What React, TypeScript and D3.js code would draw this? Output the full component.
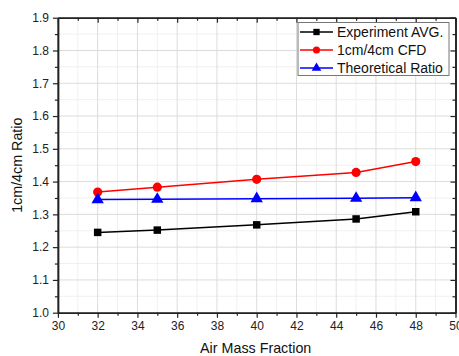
import React, { useEffect, useRef } from 'react';
import * as d3 from 'd3';

const airMass = [32, 35, 40, 45, 48];
const experimentAvg = [1.245, 1.252, 1.268, 1.286, 1.308];
const cfdRatio = [1.368, 1.383, 1.407, 1.428, 1.461];
const theoreticalRatio = [1.345, 1.346, 1.348, 1.349, 1.351];

const xTicks = [30, 32, 34, 36, 38, 40, 42, 44, 46, 48, 50];
const yTicks = [1.0, 1.1, 1.2, 1.3, 1.4, 1.5, 1.6, 1.7, 1.8, 1.9];

const seriesNames = ['Experiment AVG.', '1cm/4cm CFD', 'Theoretical Ratio'];
const seriesColors = ['#000000', '#ff0000', '#0000ff'];
const seriesShapes = [d3.symbolSquare, d3.symbolCircle, d3.symbolTriangle];

const App: React.FC = () => {
  const ref = useRef<SVGSVGElement | null>(null);

  useEffect(() => {
    const W = 459;
    const H = 356;
    const margin = { top: 17.7, right: 3.5, bottom: 43.3, left: 57.9 };
    const width = W - margin.left - margin.right;
    const height = H - margin.top - margin.bottom;
    const font = '"Liberation Sans", Arial, sans-serif';

    const svg = d3.select(ref.current);
    svg.selectAll('*').remove();

    const g = svg.append('g').attr('transform', `translate(${margin.left},${margin.top})`);

    const x = d3.scaleLinear().domain([30, 50]).range([0, width]);
    const y = d3.scaleLinear().domain([1.0, 1.9]).range([height, 0]);

    const xMinor = d3.range(31, 50, 2);
    const yMinor = d3.range(1.05, 1.9, 0.1);

    // grid
    g.append('g').selectAll('line.mx').data(xMinor).enter().append('line')
      .attr('x1', d => x(d)).attr('x2', d => x(d)).attr('y1', 0).attr('y2', height)
      .attr('stroke', '#f0f0f0').attr('stroke-width', 1);
    g.append('g').selectAll('line.my').data(yMinor).enter().append('line')
      .attr('y1', d => y(d)).attr('y2', d => y(d)).attr('x1', 0).attr('x2', width)
      .attr('stroke', '#f0f0f0').attr('stroke-width', 1);
    g.append('g').selectAll('line.gx').data(xTicks).enter().append('line')
      .attr('x1', d => x(d)).attr('x2', d => x(d)).attr('y1', 0).attr('y2', height)
      .attr('stroke', '#dcdcdc').attr('stroke-width', 1);
    g.append('g').selectAll('line.gy').data(yTicks).enter().append('line')
      .attr('y1', d => y(d)).attr('y2', d => y(d)).attr('x1', 0).attr('x2', width)
      .attr('stroke', '#dcdcdc').attr('stroke-width', 1);

    // axes
    const styleAxis = (sel: d3.Selection<SVGGElement, unknown, null, undefined>) => {
      sel.select('.domain').attr('stroke', '#222').attr('stroke-width', 1.6);
      sel.selectAll('.tick line').attr('stroke', '#222').attr('stroke-width', 1.2);
      sel.selectAll('.tick text').attr('fill', '#222').style('font-family', font).style('font-size', '12px');
    };

    const bottom = g.append('g').attr('transform', `translate(0,${height})`)
      .call(d3.axisBottom(x).tickValues(xTicks).tickSize(5).tickSizeOuter(0).tickPadding(4).tickFormat(d3.format('d')));
    styleAxis(bottom);
    const bottomMinor = g.append('g').attr('transform', `translate(0,${height})`)
      .call(d3.axisBottom(x).tickValues(xMinor).tickSize(3).tickSizeOuter(0).tickFormat(() => ''));
    styleAxis(bottomMinor);

    const left = g.append('g')
      .call(d3.axisLeft(y).tickValues(yTicks).tickSize(5).tickSizeOuter(0).tickPadding(4).tickFormat(d3.format('.1f')));
    styleAxis(left);
    const leftMinor = g.append('g')
      .call(d3.axisLeft(y).tickValues(yMinor).tickSize(3).tickSizeOuter(0).tickFormat(() => ''));
    styleAxis(leftMinor);

    const top = g.append('g')
      .call(d3.axisTop(x).tickValues(xTicks).tickSize(-5).tickSizeOuter(0).tickFormat(() => ''));
    styleAxis(top);
    const topMinor = g.append('g')
      .call(d3.axisTop(x).tickValues(xMinor).tickSize(-3).tickSizeOuter(0).tickFormat(() => ''));
    styleAxis(topMinor);

    const right = g.append('g').attr('transform', `translate(${width},0)`)
      .call(d3.axisRight(y).tickValues(yTicks).tickSize(-5).tickSizeOuter(0).tickFormat(() => ''));
    styleAxis(right);
    const rightMinor = g.append('g').attr('transform', `translate(${width},0)`)
      .call(d3.axisRight(y).tickValues(yMinor).tickSize(-3).tickSizeOuter(0).tickFormat(() => ''));
    styleAxis(rightMinor);

    // series
    const allSeries = [experimentAvg, cfdRatio, theoreticalRatio];
    const markerSizes = [56, 66, 66];
    allSeries.forEach((vals, i) => {
      const pts = airMass.map((a, j) => [a, vals[j]] as [number, number]);
      const line = d3.line<[number, number]>().x(d => x(d[0])).y(d => y(d[1]));
      g.append('path').datum(pts).attr('d', line)
        .attr('fill', 'none').attr('stroke', seriesColors[i]).attr('stroke-width', 1.5);
      g.selectAll(`.m${i}`).data(pts).enter().append('path')
        .attr('class', `m${i}`)
        .attr('transform', d => `translate(${x(d[0])},${y(d[1])})`)
        .attr('d', d3.symbol().type(seriesShapes[i]).size(markerSizes[i])())
        .attr('fill', seriesColors[i]);
    });

    // legend
    const lg = svg.append('g').attr('transform', 'translate(298,22.5)');
    lg.append('rect').attr('x', 0).attr('y', 0).attr('width', 151).attr('height', 53)
      .attr('fill', '#fff').attr('stroke', '#777').attr('stroke-width', 1);
    seriesNames.forEach((name, i) => {
      const cy = 9.5 + i * 18;
      lg.append('line').attr('x1', 2).attr('x2', 35).attr('y1', cy).attr('y2', cy)
        .attr('stroke', seriesColors[i]).attr('stroke-width', 1.5);
      lg.append('path').attr('transform', `translate(18.5,${cy})`)
        .attr('d', d3.symbol().type(seriesShapes[i]).size(40)())
        .attr('fill', seriesColors[i]);
      lg.append('text').attr('x', 39).attr('y', cy).attr('dy', '0.36em')
        .style('font-family', font).style('font-size', '14px').attr('fill', '#111')
        .text(name);
    });

    // axis titles
    svg.append('text').attr('x', margin.left + width / 2 - 1).attr('y', 353)
      .attr('text-anchor', 'middle').style('font-family', font).style('font-size', '14.3px')
      .attr('fill', '#111').text('Air Mass Fraction');
    svg.append('text').attr('transform', `translate(22,${margin.top + height / 2}) rotate(-90)`)
      .attr('text-anchor', 'middle').style('font-family', font).style('font-size', '14.3px')
      .attr('fill', '#111').text('1cm/4cm Ratio');
  }, []);

  return (
    <div style={{ position: 'absolute', left: 0, top: 0 }}>
      <svg ref={ref} width={459} height={356} style={{ display: 'block', background: '#fff' }} />
    </div>
  );
};

export default App;
